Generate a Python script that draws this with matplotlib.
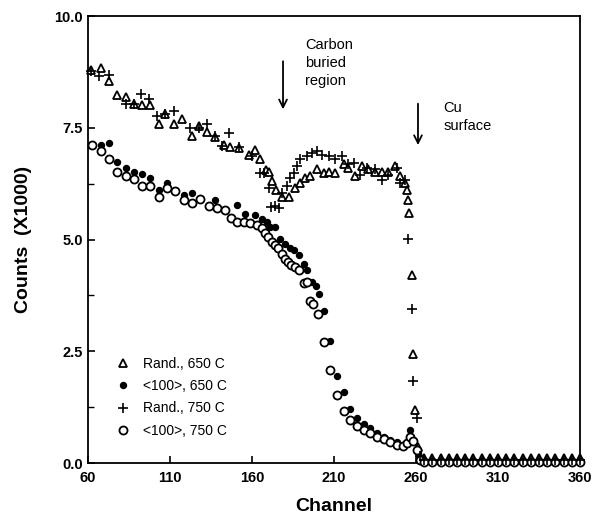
import matplotlib
matplotlib.use("Agg")
import matplotlib.pyplot as plt
import numpy as np

plt.rcParams['font.family'] = ['Liberation Sans', 'DejaVu Sans']

# ---- data (channel, counts x1000) ----
flat_ch = [265, 270, 275, 280, 285, 290, 295, 300, 305, 310, 315, 320, 325, 330,
           335, 340, 345, 350, 355, 360]

t650_ch = [61.6, 67.7, 72.8, 77.9, 82.9, 88, 93, 98, 103, 107.2, 112.3, 117.4, 123.4,
           127.5, 132.6, 137.7, 142.8, 146.8, 151.9, 158, 162, 165, 168.5, 170.2, 172,
           174.5, 178.3, 182.3, 186.4, 189.4, 192.5, 195.5, 199.6, 203.6, 206.7, 210.7,
           215.8, 218.8, 222.9, 227, 231, 235, 239, 243.2, 247.2, 250.3, 253.3, 254.3,
           255.2, 255.6, 257.4, 258.4, 259.4, 261.5, 263] + flat_ch
t650_y = [8.79, 8.84, 8.55, 8.23, 8.18, 8.03, 8.01, 8.01, 7.59, 7.80, 7.59, 7.69, 7.31,
          7.54, 7.41, 7.29, 7.12, 7.06, 7.05, 6.89, 7.01, 6.79, 6.55, 6.50, 6.32,
          6.10, 5.96, 5.96, 6.15, 6.26, 6.37, 6.41, 6.57, 6.49, 6.52, 6.49,
          6.68, 6.60, 6.41, 6.64, 6.57, 6.52, 6.52, 6.52, 6.64, 6.41, 6.26, 6.11,
          5.89, 5.59, 4.20, 2.43, 1.19, 0.35, 0.12] + [0.12] * 20

f650_ch = [67.7, 72.8, 77.9, 83, 88, 93, 98, 103, 108, 118.4, 123.4, 137.7, 151, 156,
           162, 166, 169, 171.2, 174, 177, 180.3, 183.3, 185.4, 188.4, 191.5, 193.5,
           196.5, 199, 200.6, 203.6, 207.7, 211.7, 215.8, 219.9, 223.9, 228, 232, 236,
           240.2, 244.2, 248.3, 252.3, 256.4, 258.4, 261.4, 263.5] + flat_ch
f650_y = [7.12, 7.16, 6.73, 6.59, 6.51, 6.46, 6.37, 6.11, 6.26, 6.00, 6.04, 5.89, 5.78,
          5.57, 5.55, 5.45, 5.40, 5.29, 5.29, 5.02, 4.91, 4.80, 4.76, 4.65, 4.46, 4.31,
          4.05, 3.95, 3.78, 3.41, 2.74, 1.94, 1.58, 1.21, 1.01, 0.88, 0.78, 0.68,
          0.59, 0.52, 0.46, 0.41, 0.74, 0.52, 0.22, 0.05] + [0.05] * 20

p750_ch = [61.6, 66.7, 72.8, 82.9, 88, 92, 97.1, 102.2, 107.2, 112.3, 122.4, 127.5,
           132.6, 137.7, 141.7, 145.8, 151.9, 160, 165, 167, 170.2, 171.5, 174, 176.2,
           178.3, 181.3, 183.3, 185.4, 187.4, 189.4, 193.5, 196.5, 199.6, 202.6, 206.7,
           210.7, 214.7, 218.8, 221.9, 225.9, 230, 235, 239, 243.2, 248.2, 250.3, 253.3,
           255.4, 257.4, 258.4, 260.4, 262.5] + flat_ch
p750_y = [8.78, 8.66, 8.69, 8.04, 8.03, 8.25, 8.14, 7.76, 7.80, 7.88, 7.50, 7.50,
          7.58, 7.31, 7.09, 7.39, 7.07, 6.86, 6.49, 6.49, 6.15, 5.72, 5.74, 5.70,
          6.04, 6.19, 6.37, 6.49, 6.64, 6.79, 6.86, 6.94, 6.98, 6.90, 6.86,
          6.80, 6.86, 6.68, 6.71, 6.45, 6.60, 6.57, 6.34, 6.45, 6.60, 6.26, 6.34,
          5.02, 3.45, 1.83, 1.00, 0.15] + [0.07] * 20

o750_ch = [62.5, 67.7, 72.8, 77.9, 83, 88, 93, 98, 103, 108, 113.3, 118.4, 123.4, 128.5,
           133.6, 138.6, 143.7, 147, 151, 155, 159, 163, 166, 168, 170, 172, 174, 176,
           178, 180, 182, 184, 186, 188.4, 191.5, 193.5, 195.5, 197, 200.5, 203.6,
           207.7, 211.7, 215.8, 219.9, 223.9, 228, 232, 236, 240.2, 244.2, 248.3, 252.3,
           254.5, 256.4, 258.4, 260.4, 262.5] + flat_ch
o750_y = [7.12, 6.99, 6.79, 6.51, 6.41, 6.36, 6.19, 6.19, 5.96, 6.15, 6.09, 5.89, 5.81,
          5.91, 5.74, 5.70, 5.66, 5.47, 5.40, 5.40, 5.37, 5.32, 5.25, 5.14, 5.06, 4.95,
          4.87, 4.80, 4.68, 4.57, 4.50, 4.44, 4.38, 4.31, 4.03, 4.05, 3.63, 3.56, 3.33,
          2.70, 2.09, 1.53, 1.16, 0.97, 0.82, 0.74, 0.67, 0.58, 0.53, 0.48, 0.41, 0.37,
          0.45, 0.59, 0.50, 0.29, 0.06] + [0.02] * 20

labels = ["Rand., 650 C", "<100>, 650 C", "Rand., 750 C", "<100>, 750 C"]
x_ticks = [60, 110, 160, 210, 260, 310, 360]
x_ticklabels = ["60", "110", "160", "210", "260", "310", "360"]
y_ticks = [0, 2.5, 5.0, 7.5, 10.0]
y_ticklabels = ["0.0", "2.5", "5.0", "7.5", "10.0"]

fig = plt.figure(figsize=(6.0, 5.23), dpi=100)
ax = fig.add_axes([0.1467, 0.1147, 0.82, 0.8547])

ax.plot(t650_ch, t650_y, linestyle='none', marker='^', ms=5.8, mfc='white',
        mec='black', mew=1.3, label=labels[0], zorder=3, clip_on=False)
ax.plot(f650_ch, f650_y, linestyle='none', marker='o', ms=4.3, mfc='black',
        mec='black', label=labels[1], zorder=3, clip_on=False)
ax.plot(p750_ch, p750_y, linestyle='none', marker='+', ms=7.5, mew=1.2,
        color='black', label=labels[2], zorder=4, clip_on=False)
ax.plot(o750_ch, o750_y, linestyle='none', marker='o', ms=5.8, mfc='white',
        mec='black', mew=1.3, label=labels[3], zorder=3, clip_on=False)

ax.set_xlim(60, 360)
ax.set_ylim(0, 10)
ax.set_xticks(x_ticks)
ax.set_xticklabels(x_ticklabels, fontsize=10.5, fontweight='bold')
ax.set_yticks(y_ticks)
ax.set_yticklabels(y_ticklabels, fontsize=10.5, fontweight='bold')
ax.set_yticks([1.25, 3.75, 6.25, 8.75], minor=True)
ax.tick_params(direction='in', length=5, width=1.2)
ax.tick_params(which='minor', direction='in', length=4, width=1.0)
ax.tick_params(axis='x', pad=6)
for s in ax.spines.values():
    s.set_linewidth(1.3)

ax.set_xlabel("Channel", fontsize=14, fontweight='bold', labelpad=9)
ax.set_ylabel("Counts  (X1000)", fontsize=14, fontweight='bold', labelpad=16)

leg = ax.legend(loc='lower left', bbox_to_anchor=(0.045, 0.044), frameon=False,
                fontsize=10, handlelength=1.0, handletextpad=1.0, labelspacing=0.6,
                borderaxespad=0)

# annotations
ax.annotate('', xy=(178.9, 7.85), xytext=(178.9, 9.05),
            arrowprops=dict(arrowstyle='->', lw=1.3, color='black',
                            mutation_scale=14))
ax.text(192.3, 9.5, "Carbon\nburied\nregion", fontsize=10.5, va='top', ha='left',
        linespacing=1.35)
ax.annotate('', xy=(261.2, 7.05), xytext=(261.2, 8.1),
            arrowprops=dict(arrowstyle='->', lw=1.3, color='black',
                            mutation_scale=14))
ax.text(276.5, 8.1, "Cu\nsurface", fontsize=10.5, va='top', ha='left',
        linespacing=1.35)

fig.savefig("out.png", dpi=100)
